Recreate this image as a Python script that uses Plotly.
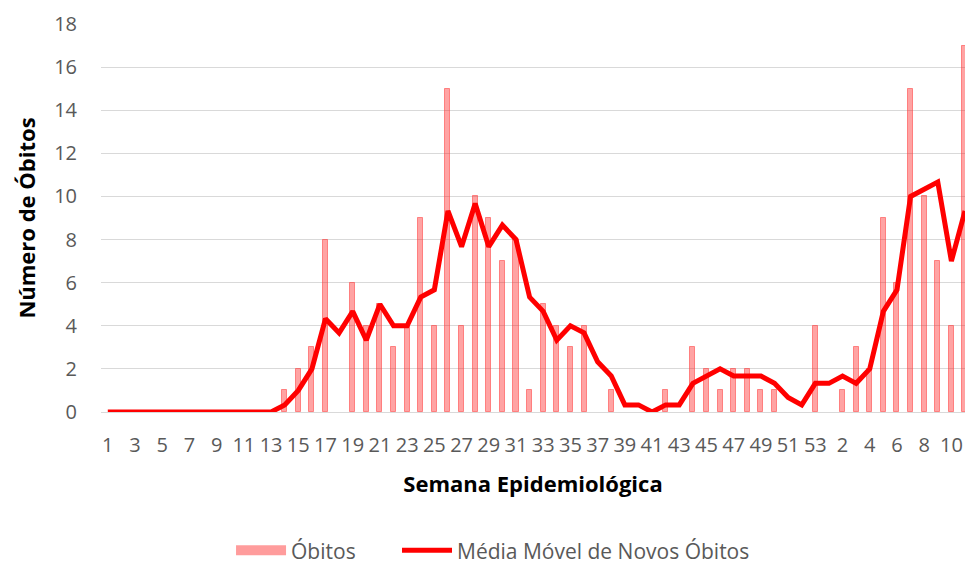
import plotly.graph_objects as go

semana = [str(w) for w in range(1, 54)] + [str(w) for w in range(1, 12)]

obitos = [0, 0, 0, 0, 0, 0, 0, 0, 0, 0, 0, 0, 0,
          1, 2, 3, 8, 0, 6, 4, 5, 3, 4, 9, 4, 15, 4, 10, 9, 7, 8,
          1, 5, 4, 3, 4, 0, 1, 0, 0, 0, 1, 0, 3, 2, 1, 2, 2, 1, 1,
          0, 0, 4,
          0, 1, 3, 2, 9, 6, 15, 10, 7, 4, 17]

media_movel = [0, 0, 0, 0, 0, 0, 0, 0, 0, 0, 0, 0, 0,
               0.33, 1, 2, 4.33, 3.67, 4.67, 3.33, 5, 4, 4, 5.33, 5.67, 9.33,
               7.67, 9.67, 7.67, 8.67, 8, 5.33, 4.67, 3.33, 4, 3.67, 2.33,
               1.67, 0.33, 0.33, 0, 0.33, 0.33, 1.33, 1.67, 2, 1.67, 1.67,
               1.67, 1.33, 0.67, 0.33, 1.33,
               1.33, 1.67, 1.33, 2, 4.67, 5.67, 10, 10.33, 10.67, 7, 9.33]

y_ticks = [0, 2, 4, 6, 8, 10, 12, 14, 16, 18]

x = list(range(len(semana)))
tickvals = [i for i in x if i % 2 == 0]
ticktext = [semana[i] for i in tickvals]

FONT = "Open Sans"
GRAY = "#595959"
BAR_FILL = "rgba(255,0,0,0.36)"

fig = go.Figure()
# legend-only swatch for the bars (wide rectangle like the original)
fig.add_trace(go.Scatter(
    x=[None], y=[None], name="Óbitos", legendgroup="ob", legend="legend",
    mode="lines", line=dict(color="rgba(255,90,90,0.6)", width=11),
    hoverinfo="skip",
))
fig.add_trace(go.Bar(
    x=x, y=obitos, name="Óbitos", legendgroup="ob", showlegend=False,
    marker=dict(color=BAR_FILL,
                line=dict(color="rgba(255,60,60,0.55)",
                          width=[1 if v > 0 else 0 for v in obitos])),
    width=0.37,
))
fig.add_trace(go.Scatter(
    x=x, y=media_movel, name="Média Móvel de Novos Óbitos", legend="legend2",
    mode="lines", line=dict(color="#FF0000", width=5),
))

legend_common = dict(orientation="h", xanchor="left", y=-0.3575, yanchor="middle",
                     font=dict(size=21, color=GRAY), itemwidth=50,
                     bgcolor="rgba(0,0,0,0)")

fig.update_layout(
    width=965, height=564,
    margin=dict(l=101, r=0, t=24, b=152, autoexpand=False),
    plot_bgcolor="white", paper_bgcolor="white",
    font=dict(family=FONT, color=GRAY, size=20),
    showlegend=True,
    legend=dict(x=0.1505, **legend_common),
    legend2=dict(x=0.3426, **legend_common),
    bargap=0,
)
fig.update_xaxes(
    range=[-0.5, 63.0], automargin=False,
    tickmode="array", tickvals=tickvals, ticktext=ticktext, tickangle=0,
    showgrid=False, zeroline=False, showline=False,
    ticks="", ticklabelstandoff=19,
    tickfont=dict(size=20, color=GRAY, family=FONT),
    title=dict(text="<b>Semana Epidemiológica</b>", standoff=19,
               font=dict(size=22, color="#000000", family=FONT)),
)
fig.update_yaxes(
    range=[0, 18], tickmode="array", tickvals=y_ticks, automargin=False,
    showgrid=True, gridcolor="#d9d9d9", gridwidth=1.3,
    zeroline=True, zerolinecolor="#d9d9d9", zerolinewidth=1.3,
    showline=False, ticks="", ticklabelstandoff=23,
    tickfont=dict(size=20, color=GRAY, family=FONT),
    title=dict(text="<b>Número de Óbitos</b>", standoff=12,
               font=dict(size=22, color="#000000", family=FONT)),
)

fig.write_html("out.html",
               config={"displayModeBar": False},
               post_script="document.body.style.margin='0';"
                           "document.body.style.overflow='hidden';")
